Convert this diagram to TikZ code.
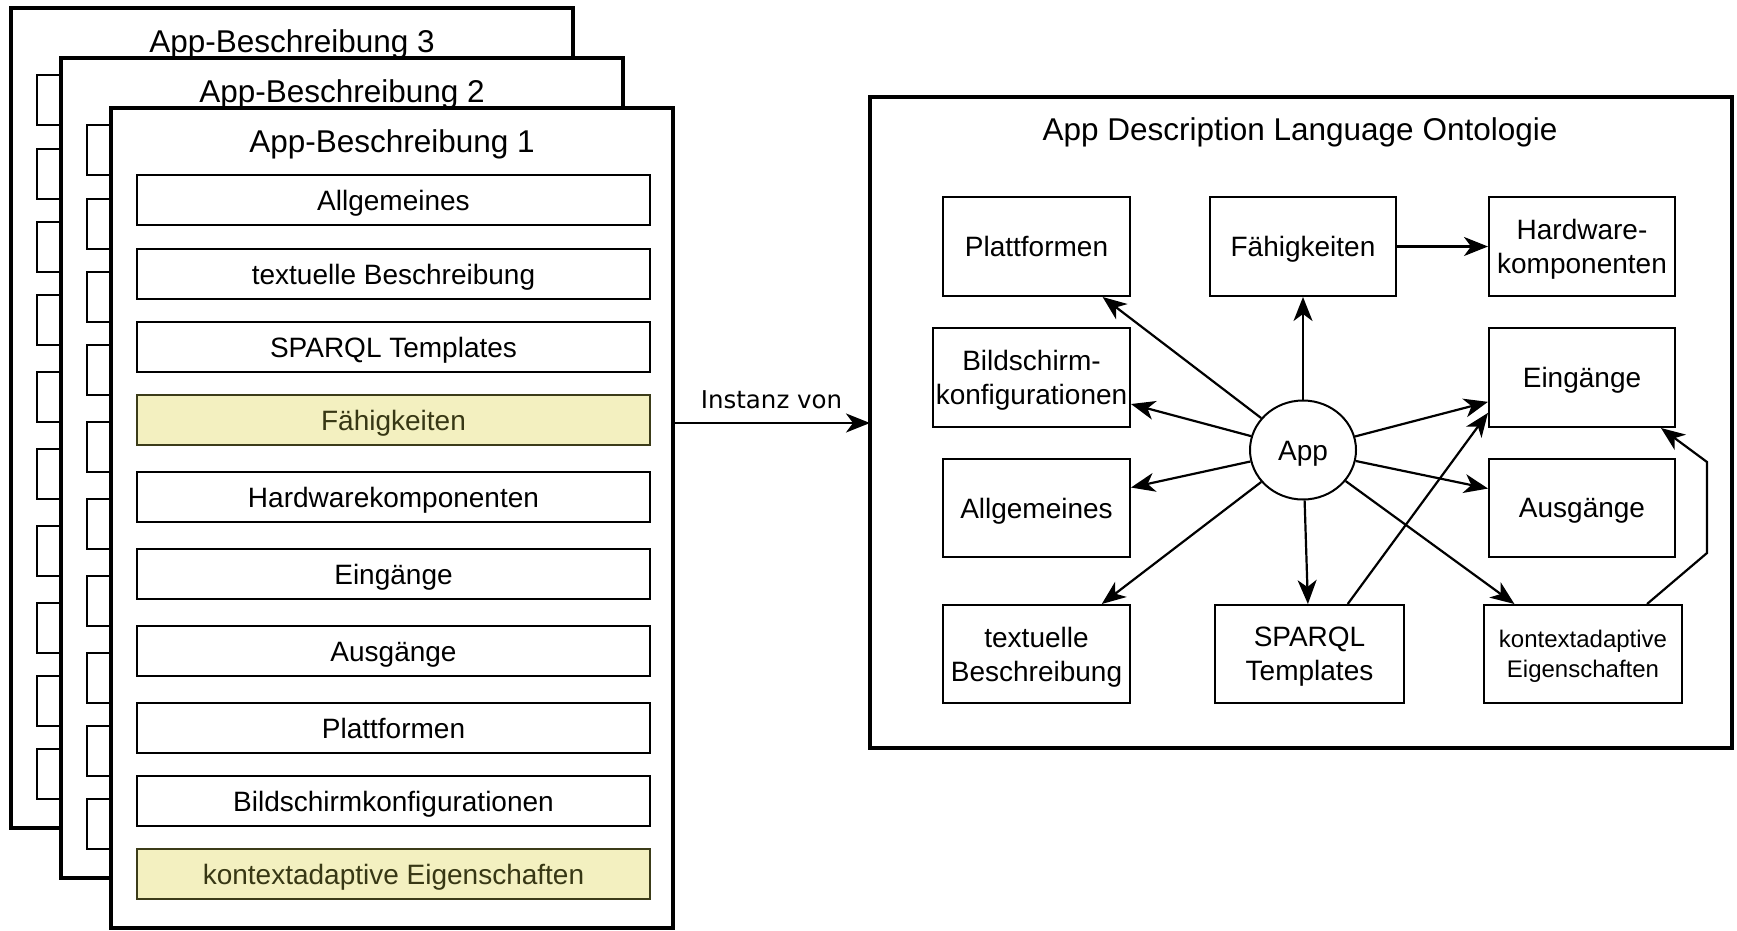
\documentclass[tikz,border=0pt]{standalone}
\usepackage{fontspec}
\setmainfont{Liberation Sans}
\newfontfamily\labelfont{DejaVu Sans}
\usetikzlibrary{arrows.meta,calc,shapes.geometric}

\definecolor{rowfill}{RGB}{243,240,192}
\definecolor{rowedge}{RGB}{60,60,25}
\definecolor{rowtext}{RGB}{55,55,20}

\tikzset{
  sheet/.style={draw=black, line width=3.5pt, fill=white, inner sep=0pt, outer sep=0pt,
                minimum width=562pt, minimum height=820pt, anchor=north west},
  tabbox/.style={draw=black, line width=2pt, fill=white},
  rowbox/.style={draw=black, line width=2pt, fill=white, inner sep=0pt, outer sep=0pt,
                 minimum width=513pt, minimum height=50pt, anchor=north west,
                 text height=20pt, text depth=0pt,
                 font=\fontsize{28}{34}\selectfont},
  hilite/.style={fill=rowfill, draw=rowedge, text=rowtext},
  heading/.style={anchor=base, inner sep=0pt, font=\fontsize{31.5}{36}\selectfont},
  concept/.style={draw=black, line width=2pt, fill=white, align=center, inner sep=0pt,
                  text depth=0pt, font=\fontsize{28}{34}\selectfont},
  hub/.style={ellipse, draw=black, line width=2pt, fill=white, inner sep=0pt,
              text height=20pt, text depth=0pt,
              minimum width=106pt, minimum height=99pt, font=\fontsize{28}{34}\selectfont},
  link/.style={line width=2.2pt, -{Stealth[length=24pt,width=19pt,inset=7pt]}},
  edgelabel/.style={anchor=base, inner sep=0pt, font=\labelfont\fontsize{24.5}{28}\selectfont}
}

% a description sheet lying behind the front one: frame, row slots and heading
\newcommand\backsheet[3]{%
  \node[sheet] (#1) at (111-#2,108-#2) {};
  \foreach \t in {175,249,322,395,472,549,626,703,776,849}
    \draw[tabbox] (137-#2,\t-#2) rectangle (650-#2,\t+50-#2);
  \node[heading] at (392-#2,152-#2) {#3};
}

\begin{document}
\begin{tikzpicture}[x=1pt,y=-1pt]
\useasboundingbox (0,0) rectangle (1737,930);

% ---------- stack of app descriptions ----------
\backsheet{sheet3}{100}{App-Beschreibung 3}
\backsheet{sheet2}{50}{App-Beschreibung 2}

\node[sheet] (sheet1) at (111,108) {};
\node[heading] at (392,152) {App-Beschreibung 1};

\node[rowbox]         (r1)  at (137,175) {Allgemeines};
\node[rowbox]         (r2)  at (137,249) {textuelle Beschreibung};
\node[rowbox]         (r3)  at (137,322) {SPARQL Templates};
\node[rowbox,hilite]  (r4)  at (137,395) {Fähigkeiten};
\node[rowbox]         (r5)  at (137,472) {Hardwarekomponenten};
\node[rowbox]         (r6)  at (137,549) {Eingänge};
\node[rowbox]         (r7)  at (137,626) {Ausgänge};
\node[rowbox]         (r8)  at (137,703) {Plattformen};
\node[rowbox]         (r9)  at (137,776) {Bildschirmkonfigurationen};
\node[rowbox,hilite]  (r10) at (137,849) {kontextadaptive Eigenschaften};

% ---------- ontology ----------
\node[draw=black, line width=3.5pt, fill=white, inner sep=0pt, outer sep=0pt,
      minimum width=862pt, minimum height=651pt, anchor=north west] (onto) at (870,97) {};
\node[heading] at (1300,140) {App Description Language Ontologie};

\node[concept, minimum width=187pt, minimum height=99pt] (plat) at (1036.5,246.5) {Plattformen};
\node[concept, minimum width=186pt, minimum height=99pt] (faeh) at (1303,246.5) {Fähigkeiten};
\node[concept, minimum width=186pt, minimum height=99pt] (hw)   at (1582,246.5) {Hardware-\\komponenten};
\node[concept, minimum width=197pt, minimum height=99pt] (bild) at (1031.5,377.5) {Bildschirm-\\konfigurationen};
\node[concept, minimum width=186pt, minimum height=99pt] (eing) at (1582,377.5) {Eingänge};
\node[concept, minimum width=187pt, minimum height=98pt] (allg) at (1036.5,508) {Allgemeines};
\node[concept, minimum width=186pt, minimum height=98pt] (ausg) at (1582,508) {Ausgänge};
\node[concept, minimum width=187pt, minimum height=98pt] (txt)  at (1036.5,654) {textuelle\\Beschreibung};
\node[concept, minimum width=189pt, minimum height=98pt] (spar) at (1309.5,654) {SPARQL\\Templates};
\node[concept, minimum width=198pt, minimum height=98pt,
      font=\fontsize{24}{30}\selectfont] (kont) at (1583,654) {kontextadaptive\\Eigenschaften};
\node[hub] (app) at (1303,450) {App};

% relations of the app concept
\foreach \n in {plat,faeh,bild,eing,allg,ausg,txt,spar,kont}
  \draw[link] (app) -- (\n);
\draw[link] (faeh) -- (hw);
\draw[link] ($(spar.north west)!0.70!(spar.north east)$) -- ($(eing.north west)!0.85!(eing.south west)$);
\coordinate (bendlow)  at (1707,553);
\coordinate (bendhigh) at (1707,462);
\draw[link] ($(kont.north west)!0.82!(kont.north east)$) -- (bendlow) -- (bendhigh)
            -- ($(eing.south west)!0.92!(eing.south east)$);

% instance-of relation between the descriptions and the ontology
\coordinate (inst) at (0,423);
\draw[link] (sheet1.east |- inst) -- (onto.west |- inst);
\node[edgelabel] at ($($(sheet1.east |- inst)!0.5!(onto.west |- inst)$)+(0,-15)$) {Instanz von};

\end{tikzpicture}
\end{document}
